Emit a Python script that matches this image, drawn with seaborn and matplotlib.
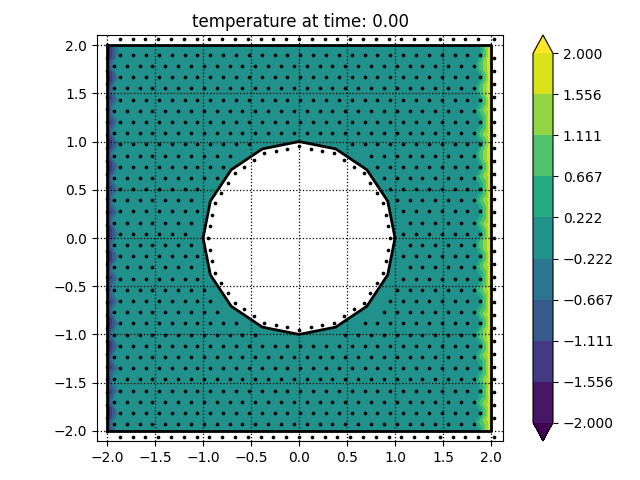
import numpy as np
import pandas as pd
import matplotlib
matplotlib.use("Agg")
import matplotlib.pyplot as plt
import matplotlib.tri as mtri
from matplotlib.path import Path
from matplotlib.ticker import FuncFormatter
import seaborn as sns

# ---- chart values ----
title = "temperature at time: 0.00"
half_width = 2.0            # square domain [-2, 2] x [-2, 2]
hole_radius = 1.0           # polygonal hole
hole_sides = 16
nodes_per_side = 30         # boundary nodes per square side
nodes_per_hole_edge = 3
spacing = 0.134             # mesh spacing
T_left = -2.0               # boundary temperature at x = -2
T_right = 2.0               # boundary temperature at x = +2
T_inside = 0.0              # initial temperature elsewhere
level_min, level_max, n_levels = -2.0, 2.0, 10
xticks = [-2.0, -1.5, -1.0, -0.5, 0.0, 0.5, 1.0, 1.5, 2.0]
yticks = [-2.0, -1.5, -1.0, -0.5, 0.0, 0.5, 1.0, 1.5, 2.0]

# ---- mesh nodes ----
L = half_width
s = np.linspace(-L, L, nodes_per_side + 1)
bx = np.concatenate([s, s, np.full(nodes_per_side - 1, -L), np.full(nodes_per_side - 1, L)])
by = np.concatenate([np.full(nodes_per_side + 1, -L), np.full(nodes_per_side + 1, L), s[1:-1], s[1:-1]])

ang = np.linspace(0, 2 * np.pi, hole_sides + 1)
vx, vy = hole_radius * np.cos(ang), hole_radius * np.sin(ang)
hx, hy = [], []
for i in range(hole_sides):
    for k in range(nodes_per_hole_edge):
        t = k / nodes_per_hole_edge
        hx.append(vx[i] + t * (vx[i + 1] - vx[i]))
        hy.append(vy[i] + t * (vy[i + 1] - vy[i]))
hx, hy = np.array(hx), np.array(hy)

hole_path = Path(np.column_stack([vx, vy]))
big_hole = Path(np.column_stack([vx * 1.08, vy * 1.08]))
ix, iy = [], []
row_h = spacing * np.sqrt(3) / 2
rows = np.arange(-L + 0.07, L - 0.05, row_h)
for r, yy in enumerate(rows):
    off = 0.0 if r % 2 == 0 else spacing / 2
    xs = np.arange(-L + 0.07 + off, L - 0.05, spacing)
    for xx in xs:
        ix.append(xx)
        iy.append(yy)
ix, iy = np.array(ix), np.array(iy)
keep = ~big_hole.contains_points(np.column_stack([ix, iy]))
ix, iy = ix[keep], iy[keep]

x = np.concatenate([bx, hx, ix])
y = np.concatenate([by, hy, iy])
T = np.full(x.shape, T_inside)
T[np.isclose(x, -L)] = T_left
T[np.isclose(x, L)] = T_right

tri = mtri.Triangulation(x, y)
cx = x[tri.triangles].mean(axis=1)
cy = y[tri.triangles].mean(axis=1)
tri.set_mask(hole_path.contains_points(np.column_stack([cx, cy])))

# displayed node positions (boundary nodes drawn slightly offset, as in reference)
dx, dy = x.copy(), y.copy()
nb = len(bx)
top = np.isclose(by, L) & ~np.isclose(bx, -L)
bot = np.isclose(by, -L) & ~np.isclose(bx, -L)
rgt = np.isclose(bx, L)
dy[:nb][top] = L + 0.06
dy[:nb][bot] = -L - 0.06
dx[:nb][rgt] = L + 0.03
nh = len(hx)
dx[nb:nb + nh] *= 0.95
dy[nb:nb + nh] *= 0.95
nodes = pd.DataFrame({"x": dx, "y": dy})

# ---- figure ----
fig = plt.figure(figsize=(6.4, 4.8), dpi=100)
ax = fig.add_axes([97 / 640, 39 / 480, 406 / 640, 406 / 480])
cax = fig.add_axes([533 / 640, 39 / 480, 20 / 640, 406 / 480])

levels = np.linspace(level_min, level_max, n_levels)
cs = ax.tricontourf(tri, T, levels=levels, cmap="viridis", extend="both")
ax.plot(np.r_[-L, L, L, -L, -L], np.r_[-L, -L, L, L, -L], color="k", lw=2, zorder=3)
ax.plot(vx, vy, color="k", lw=2, zorder=3)
sns.scatterplot(data=nodes, x="x", y="y", color="k", s=7, linewidth=0, ax=ax, zorder=4, legend=False)

ax.set_xlim(-2.105, 2.125)
ax.set_ylim(-2.105, 2.105)
ax.set_xticks(xticks)
ax.set_yticks(yticks)
ax.set_xlabel("")
ax.set_ylabel("")
ax.set_axisbelow(False)
ax.grid(True, linestyle=":", color="k", linewidth=0.9)
ax.set_title(title)

cb = fig.colorbar(cs, cax=cax, ticks=levels)
cb.ax.yaxis.set_major_formatter(FuncFormatter(lambda v, p: f"{v:.3f}".replace("-", "\u2212")))

fig.savefig("out.png", dpi=100)
